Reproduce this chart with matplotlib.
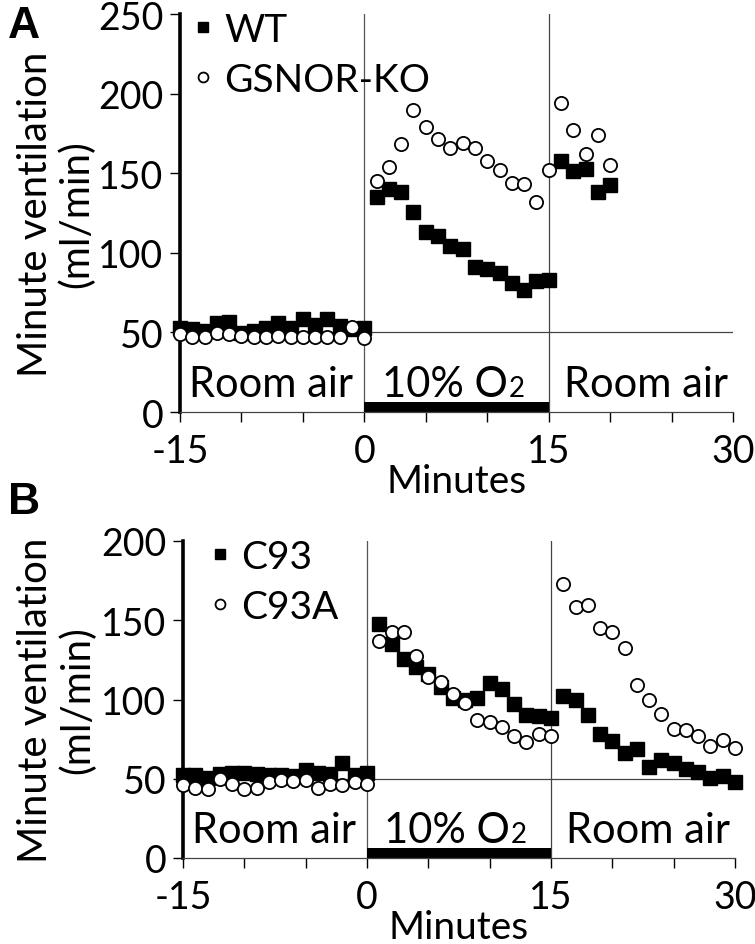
import matplotlib
matplotlib.use('Agg')
import matplotlib.pyplot as plt
import numpy as np

plt.rcParams['font.family'] = ['Lato', 'DejaVu Sans']

# ---- time points (minutes) ----
t_base = [-15, -14, -13, -12, -11, -10, -9, -8, -7, -6, -5, -4, -3, -2, -1, 0]
t_hyp = [1, 2, 3, 4, 5, 6, 7, 8, 9, 10, 11, 12, 13, 14, 15]
t_recA = [16, 17, 18, 19, 20]
t_recB = [16, 17, 18, 19, 20, 21, 22, 23, 24, 25, 26, 27, 28, 29, 30]

# ---- panel A (ml/min) ----
wt_base = [52.9, 51.9, 50.8, 55.7, 56.7, 49.4, 50.8, 52.5, 55.7, 52.9, 58.2, 54.6, 58.2, 54.0, 51.9, 52.9]
wt_hyp = [135.2, 139.8, 138.4, 125.8, 113.2, 110.7, 104.2, 102.1, 90.8, 89.6, 87.5, 81.2, 76.6, 82.2, 82.9]
wt_rec = [157.4, 151.1, 152.7, 138.4, 142.8]

ko_base = [48.7, 47.3, 46.9, 49.8, 48.7, 47.9, 47.3, 47.3, 47.9, 47.3, 47.3, 47.3, 47.3, 47.3, 53.6, 46.2]
ko_hyp = [145.1, 154.1, 168.1, 189.7, 179.2, 171.4, 166.0, 169.1, 166.0, 157.8, 152.0, 144.0, 143.2, 131.7, 152.3]
ko_rec = [194.0, 177.0, 162.2, 173.8, 154.9]

# ---- panel B (ml/min) ----
c93_base = [52.1, 52.1, 50.6, 52.7, 53.8, 53.8, 53.2, 52.1, 52.1, 51.5, 55.7, 53.8, 53.2, 59.9, 52.1, 53.8]
c93_hyp = [147.7, 135.1, 125.6, 120.4, 116.0, 107.8, 101.1, 99.8, 101.1, 110.3, 106.7, 97.3, 90.5, 89.3, 88.2]
c93_rec = [102.1, 99.8, 90.5, 78.4, 73.7, 66.2, 68.5, 57.4, 62.0, 59.9, 56.3, 54.0, 50.6, 51.5, 47.9]

c93a_base = [46.2, 44.3, 43.3, 50.0, 46.8, 43.3, 44.3, 47.9, 48.9, 48.3, 49.4, 44.3, 46.8, 45.8, 47.9, 46.8]
c93a_hyp = [136.8, 142.4, 142.4, 127.7, 114.5, 110.9, 103.2, 97.7, 87.2, 85.7, 82.6, 76.7, 73.1, 78.4, 76.7]
c93a_rec = [172.9, 158.6, 159.9, 145.0, 142.4, 132.4, 109.2, 99.8, 91.0, 81.3, 80.5, 77.1, 70.8, 74.2, 69.5]

xticks = [-15, 0, 15, 30]
phase_labels = ['Room air', '10% O', 'Room air']


def panel(ax, ymax, t_rec, sq, ci, names, ylab_x, leg_x):
    t_all = t_base + t_hyp + t_rec
    ax.plot(t_all, sq[0] + sq[1] + sq[2], 's', ms=9.5, color='black',
            clip_on=False, zorder=3, label=names[0])
    ax.plot(t_all, ci[0] + ci[1] + ci[2], 'o', ms=9.5, mfc='white', mec='black', mew=1.3,
            clip_on=False, zorder=4, label=names[1])

    ax.set_xlim(-15, 30)
    ax.set_ylim(0, ymax)
    ax.axhline(50, color='#444444', lw=0.9, zorder=1)
    ax.axvline(0, color='#555555', lw=0.9, zorder=1)
    ax.axvline(15, color='#444444', lw=0.9, zorder=1)
    ax.fill_between([0, 15], 0, 6.3, color='black', lw=0, zorder=2)

    for s in ['top', 'right']:
        ax.spines[s].set_visible(False)
    ax.spines['left'].set_linewidth(2.6)
    ax.spines['bottom'].set_linewidth(0.9)
    ax.spines['bottom'].set_color('#444444')
    ax.set_yticks(np.arange(0, ymax + 1, 50))
    ax.set_xticks(np.arange(-15, 31, 5))
    ax.set_xticklabels([str(v) if v in xticks else '' for v in np.arange(-15, 31, 5)])
    ax.tick_params(axis='both', direction='out', length=7, width=1.0, labelsize=27)
    ax.tick_params(axis='x', pad=8)
    ax.tick_params(axis='y', pad=5)

    ax.set_ylabel('Minute ventilation\n(ml/min)', fontsize=29, linespacing=1.12)
    ax.yaxis.set_label_coords(ylab_x, 0.5)

    ax.annotate('Minutes', xy=(0.5, 0), xycoords='axes fraction', xytext=(0, -80),
                textcoords='offset pixels', ha='center', va='baseline', fontsize=28)

    ty = 9.8
    ax.text(-7.6, ty, phase_labels[0], fontsize=30, ha='center', va='baseline')
    ax.text(11.65, ty, phase_labels[1], fontsize=30, ha='right', va='baseline')
    ax.text(11.75, ty, '2', fontsize=20, ha='left', va='baseline')
    ax.text(22.9, ty, phase_labels[2], fontsize=30, ha='center', va='baseline')

    ax.legend(loc='upper left', bbox_to_anchor=(leg_x, 1.0 + 2 / (ax.bbox.height)),
              frameon=False, fontsize=28, markerscale=0.75, handlelength=0.6,
              handletextpad=0.25, labelspacing=0.36, borderaxespad=0, borderpad=0)


fig = plt.figure(figsize=(7.55, 9.45), dpi=100)
axA = fig.add_axes([180 / 755, 1 - 413 / 945, 553 / 755, 398 / 945])
axB = fig.add_axes([183 / 755, 1 - 859 / 945, 552 / 755, 317 / 945])

panel(axA, 250, t_recA, (wt_base, wt_hyp, wt_rec), (ko_base, ko_hyp, ko_rec),
      ['WT', 'GSNOR-KO'], -0.153, 0.02)
panel(axB, 200, t_recB, (c93_base, c93_hyp, c93_rec), (c93a_base, c93a_hyp, c93a_rec),
      ['C93', 'C93A'], -0.158, 0.046)

fig.text(8 / 755, 1 - 38 / 945, 'A', fontsize=32, fontweight='bold', family='Liberation Sans')
fig.text(8 / 755, 1 - 514 / 945, 'B', fontsize=32, fontweight='bold', family='Liberation Sans')

fig.savefig('out.png', dpi=100)
